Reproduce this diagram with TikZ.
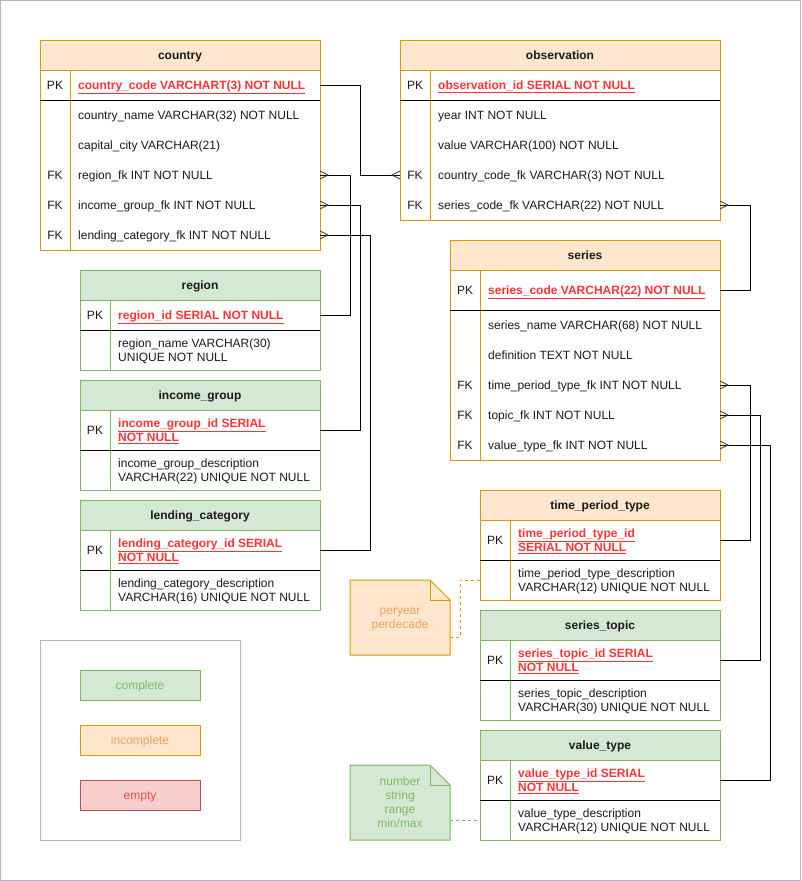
\documentclass[tikz,border=0pt]{standalone}
\usepackage{fontspec}
\setmainfont{Liberation Sans}
\usetikzlibrary{calc}
\definecolor{OFill}{HTML}{FFE6CC}
\definecolor{OLine}{HTML}{D79B00}
\definecolor{GFill}{HTML}{D5E8D4}
\definecolor{GLine}{HTML}{82B366}
\definecolor{RFill}{HTML}{F8CECC}
\definecolor{RLine}{HTML}{B85450}
\definecolor{purp}{HTML}{C3ABD0}
\definecolor{pkred}{HTML}{FF3333}
\definecolor{txt}{HTML}{1A1A1A}
\definecolor{OText}{HTML}{F2A05A}
\definecolor{GText}{HTML}{7EBA5E}
\definecolor{RText}{HTML}{E05050}
\newcommand\pk[1]{\textcolor{pkred}{\underline{\bfseries #1}}}
\newcommand\tl{\rule{0pt}{8.6pt}}
\newcommand\erframe[8]{%
  \node[hdr#7, minimum width={#3-#2}, minimum height=30, anchor=north west] (#1) at (#2,#4) {#8};
  \draw[#7Line, line width=1pt] (#2,{#4+30}) -- (#2,#6) -- (#3,#6) -- (#3,{#4+30});
  \draw[#7Line, line width=1pt] ({#2+30},{#4+30}) -- ({#2+30},#6);
  \draw[black, line width=1pt] (#2,#5) -- (#3,#5);
}
\newcommand\errow[7]{%
  \node[rowcell, minimum width={#3-#2}, minimum height={#5-#4}, anchor=north west] (#1) at (#2,#4) {};
  \node[keytext] (#1-k) at ({#2+15},{(#4+#5)/2}) {#6};
  \node[rowtext] (#1-t) at ({#2+38},{(#4+#5)/2}) {\tl#7};
}
\newcommand\crowR[1]{\draw[crowfoot] ([yshift=4pt]#1.east) -- ([xshift=8pt]#1.east) -- ([yshift=-4pt]#1.east);}
\newcommand\crowL[1]{\draw[crowfoot] ([yshift=4pt]#1.west) -- ([xshift=-8pt]#1.west) -- ([yshift=-4pt]#1.west);}
\begin{document}
\begin{tikzpicture}[x=1pt,y=-1pt,
  basefont/.style={font=\fontsize{12}{14}\selectfont},
  hdrO/.style={draw=OLine, fill=OFill, line width=1pt, outer sep=0pt, font=\fontsize{12}{14}\selectfont\bfseries, text=txt, text height=8.6pt, text depth=0pt},
  hdrG/.style={draw=GLine, fill=GFill, line width=1pt, outer sep=0pt, font=\fontsize{12}{14}\selectfont\bfseries, text=txt, text height=8.6pt, text depth=0pt},
  rowcell/.style={inner sep=0pt, outer sep=0pt},
  keytext/.style={basefont, inner sep=0pt, text=txt, text height=8.6pt, text depth=0pt},
  rowtext/.style={basefont, inner sep=0pt, text=txt, align=left, anchor=west, text depth=0pt},
  conn/.style={line width=1pt, draw=black},
  crowfoot/.style={line width=0.8pt, draw=black!80},
  legbox/.style={line width=1pt, minimum width=120, minimum height=30, basefont, text height=8.6pt, text depth=0pt},
  notetext/.style={basefont, align=center, minimum width=100, inner sep=0pt, text depth=0pt}
]
\useasboundingbox (0,0) rectangle (802,881);
\draw[purp, line width=1pt] (0.5,0.5) rectangle (800,880);

% country
\erframe{country}{40}{320}{40}{100}{250}{O}{country}
\errow{country-pk}{40}{320}{70}{100}{PK}{\pk{country\_code VARCHART(3) NOT NULL}}
\errow{country-r1}{40}{320}{100}{130}{}{country\_name VARCHAR(32) NOT NULL}
\errow{country-r2}{40}{320}{130}{160}{}{capital\_city VARCHAR(21)}
\errow{country-r3}{40}{320}{160}{190}{FK}{region\_fk INT NOT NULL}
\errow{country-r4}{40}{320}{190}{220}{FK}{income\_group\_fk INT NOT NULL}
\errow{country-r5}{40}{320}{220}{250}{FK}{lending\_category\_fk INT NOT NULL}

% observation
\erframe{obs}{400}{720}{40}{100}{220}{O}{observation}
\errow{obs-pk}{400}{720}{70}{100}{PK}{\pk{observation\_id SERIAL NOT NULL}}
\errow{obs-r1}{400}{720}{100}{130}{}{year INT NOT NULL}
\errow{obs-r2}{400}{720}{130}{160}{}{value VARCHAR(100) NOT NULL}
\errow{obs-r3}{400}{720}{160}{190}{FK}{country\_code\_fk VARCHAR(3) NOT NULL}
\errow{obs-r4}{400}{720}{190}{220}{FK}{series\_code\_fk VARCHAR(22) NOT NULL}

% series
\erframe{series}{450}{720}{240}{310}{460}{O}{series}
\errow{series-pk}{450}{720}{270}{310}{PK}{\pk{series\_code VARCHAR(22) NOT NULL}}
\errow{series-r1}{450}{720}{310}{340}{}{series\_name VARCHAR(68) NOT NULL}
\errow{series-r2}{450}{720}{340}{370}{}{definition TEXT NOT NULL}
\errow{series-r3}{450}{720}{370}{400}{FK}{time\_period\_type\_fk INT NOT NULL}
\errow{series-r4}{450}{720}{400}{430}{FK}{topic\_fk INT NOT NULL}
\errow{series-r5}{450}{720}{430}{460}{FK}{value\_type\_fk INT NOT NULL}

% region
\erframe{region}{80}{320}{270}{330}{370}{G}{region}
\errow{region-pk}{80}{320}{300}{330}{PK}{\pk{region\_id SERIAL NOT NULL}}
\errow{region-d}{80}{320}{330}{370}{}{region\_name VARCHAR(30)\\UNIQUE NOT NULL}

% income_group
\erframe{income}{80}{320}{380}{450}{490}{G}{income\_group}
\errow{income-pk}{80}{320}{410}{450}{PK}{\pk{income\_group\_id SERIAL}\\\pk{NOT NULL}}
\errow{income-d}{80}{320}{450}{490}{}{income\_group\_description\\VARCHAR(22) UNIQUE NOT NULL}

% lending_category
\erframe{lending}{80}{320}{500}{570}{610}{G}{lending\_category}
\errow{lending-pk}{80}{320}{530}{570}{PK}{\pk{lending\_category\_id SERIAL}\\\pk{NOT NULL}}
\errow{lending-d}{80}{320}{570}{610}{}{lending\_category\_description\\VARCHAR(16) UNIQUE NOT NULL}

% time_period_type
\erframe{tpt}{480}{720}{490}{560}{600}{O}{time\_period\_type}
\errow{tpt-pk}{480}{720}{520}{560}{PK}{\pk{time\_period\_type\_id}\\\pk{SERIAL NOT NULL}}
\errow{tpt-d}{480}{720}{560}{600}{}{time\_period\_type\_description\\VARCHAR(12) UNIQUE NOT NULL}

% series_topic
\erframe{topic}{480}{720}{610}{680}{720}{G}{series\_topic}
\errow{topic-pk}{480}{720}{640}{680}{PK}{\pk{series\_topic\_id SERIAL}\\\pk{NOT NULL}}
\errow{topic-d}{480}{720}{680}{720}{}{series\_topic\_description\\VARCHAR(30) UNIQUE NOT NULL}

% value_type
\erframe{vt}{480}{720}{730}{800}{840}{G}{value\_type}
\errow{vt-pk}{480}{720}{760}{800}{PK}{\pk{value\_type\_id SERIAL}\\\pk{NOT NULL}}
\errow{vt-d}{480}{720}{800}{840}{}{value\_type\_description\\VARCHAR(12) UNIQUE NOT NULL}

% notes
\draw[OLine, fill=OFill, line width=1pt] (350,580) -- (430,580) -- (450,600) -- (450,655) -- (350,655) -- cycle;
\draw[OLine, line width=1pt] (430,580) -- (430,600) -- (450,600);
\node[notetext, text=OText, minimum height=75] (note1) at (400,617.5) {\tl peryear\\perdecade};
\draw[GLine, fill=GFill, line width=1pt] (350,765) -- (430,765) -- (450,785) -- (450,840) -- (350,840) -- cycle;
\draw[GLine, line width=1pt] (430,765) -- (430,785) -- (450,785);
\node[notetext, text=GText, minimum height=75] (note2) at (400,802.5) {\tl number\\string\\range\\min/max};

\draw[OLine, line width=1pt, dash pattern=on 3pt off 3pt] ([yshift=-19.5pt]note1.east) -- ++(10,0) |- (tpt-d.west);
\draw[GLine, line width=1pt, dash pattern=on 3pt off 3pt] (vt-d.west -| note2.east) -- (vt-d.west);

% legend
\node[draw=purp, line width=1pt, minimum width=200, minimum height=200, anchor=north west, outer sep=0pt] (legend) at (40,640) {};
\node[legbox, draw=GLine, fill=GFill, text=GText] (leg-complete) at (140,685) {complete};
\node[legbox, draw=OLine, fill=OFill, text=OText] (leg-incomplete) at (140,740) {incomplete};
\node[legbox, draw=RLine, fill=RFill, text=RText] (leg-empty) at (140,795) {empty};

% connectors
\draw[conn] (country-pk.east) -- ++(40,0) |- (obs-r3.west);
\crowL{obs-r3}
\draw[conn] (country-r3.east) -- ++(30,0) |- (region-pk.east);
\crowR{country-r3}
\draw[conn] (country-r4.east) -- ++(40,0) |- (income-pk.east);
\crowR{country-r4}
\draw[conn] (country-r5.east) -- ++(50,0) |- (lending-pk.east);
\crowR{country-r5}
\draw[conn] (obs-r4.east) -- ++(30,0) |- (series-pk.east);
\crowR{obs-r4}
\draw[conn] (series-r3.east) -- ++(30,0) |- (tpt-pk.east);
\crowR{series-r3}
\draw[conn] (series-r4.east) -- ++(40,0) |- (topic-pk.east);
\crowR{series-r4}
\draw[conn] (series-r5.east) -- ++(50,0) |- (vt-pk.east);
\crowR{series-r5}
\end{tikzpicture}
\end{document}
